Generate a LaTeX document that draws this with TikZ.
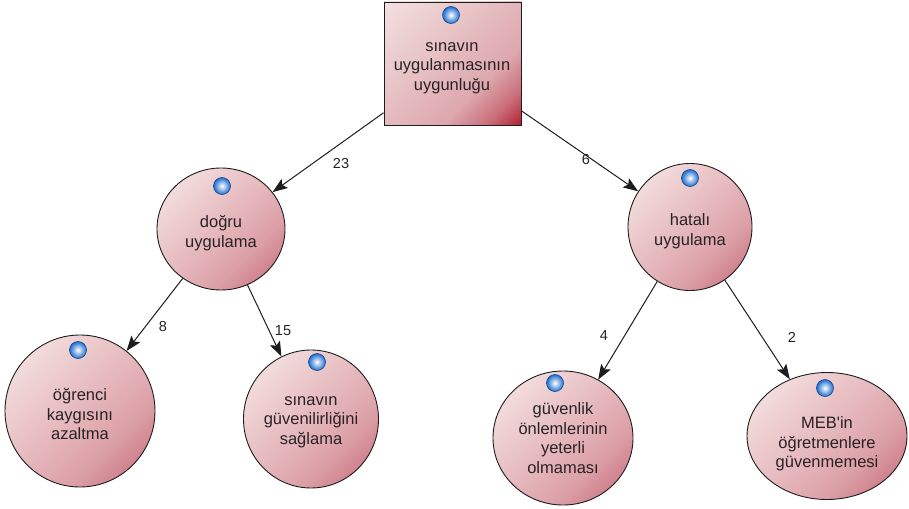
\documentclass[tikz,border=0pt]{standalone}
\usepackage{fontspec}
\setmainfont{Liberation Sans}
\usetikzlibrary{shapes.geometric,arrows.meta}

\definecolor{edgegray}{RGB}{30,28,28}
\definecolor{txt}{RGB}{40,34,36}
\definecolor{ballblue}{RGB}{30,110,205}
\definecolor{ballring}{RGB}{20,70,150}

% diagonal fills: dark at the lower right, light at the upper left
\pgfdeclareverticalshading{bubblefill}{100bp}{%
  color(0bp)=(rgb,255:red,196;green,100;blue,114);
  color(22bp)=(rgb,255:red,204;green,122;blue,134);
  color(35bp)=(rgb,255:red,220;green,160;blue,167);
  color(50bp)=(rgb,255:red,229;green,183;blue,188);
  color(75bp)=(rgb,255:red,243;green,220;blue,220);
  color(100bp)=(rgb,255:red,246;green,230;blue,230)}
\pgfdeclareverticalshading{boxfill}{100bp}{%
  color(0bp)=(rgb,255:red,172;green,24;blue,38);
  color(15bp)=(rgb,255:red,178;green,36;blue,50);
  color(24bp)=(rgb,255:red,202;green,110;blue,122);
  color(36bp)=(rgb,255:red,221;green,168;blue,174);
  color(60bp)=(rgb,255:red,232;green,196;blue,199);
  color(85bp)=(rgb,255:red,243;green,224;blue,224);
  color(100bp)=(rgb,255:red,245;green,228;blue,228)}

\tikzset{
  x=1pt, y=-1pt,
  bubble/.style={ellipse, draw=edgegray, line width=0.9pt, inner sep=0pt,
    shading=bubblefill, shading angle=45},
  rootbox/.style={rectangle, draw=edgegray, line width=0.9pt, inner sep=0pt,
    minimum width=137, minimum height=123,
    shading=boxfill, shading angle=45},
  caption/.style={align=center, text=txt, inner sep=0pt,
    font=\fontsize{16.5}{19.5}\selectfont},
  link/.style={draw=edgegray, line width=1pt,
    -{Stealth[length=15pt,width=11pt,inset=3pt]}},
  count/.style={text=txt, inner sep=1pt, font=\fontsize{14.5}{16}\selectfont},
}

% small blue marker drawn at the top of every node
\newcommand{\marker}[1]{%
  \shade[inner color=white, outer color=ballblue] #1 circle (8.5);
  \draw[ballring, line width=0.6pt] #1 circle (8.5);}

\begin{document}
\begin{tikzpicture}
\useasboundingbox (0,0) rectangle (909,508);

% nodes
\node[rootbox] (root) at (452.5,63.5) {};
\node[bubble, minimum width=128, minimum height=122] (dogru) at (221,229) {};
\node[bubble, minimum width=124, minimum height=127] (hatali) at (690,227) {};
\node[bubble, minimum width=150, minimum height=152] (ogrenci) at (80,411) {};
\node[bubble, minimum width=135, minimum height=138] (guvenilir) at (311,419) {};
\node[bubble, minimum width=140, minimum height=134] (guvenlik) at (563,438) {};
\node[bubble, minimum width=160, minimum height=127] (meb) at (827,436) {};

% captions
\node[caption] (root-t) at (452,68) {sınavın\\uygulanmasının\\uygunluğu};
\node[caption] (dogru-t) at (221,233) {doğru\\uygulama};
\node[caption] (hatali-t) at (690,231) {hatalı\\uygulama};
\node[caption] (ogrenci-t) at (80,414) {öğrenci\\kaygısını\\azaltma};
\node[caption] (guvenilir-t) at (311,422) {sınavın\\güvenilirliğini\\sağlama};
\node[caption] (guvenlik-t) at (563,438) {güvenlik\\önlemlerinin\\yeterli\\olmaması};
\node[caption] (meb-t) at (827,444) {MEB\textquotesingle in\\öğretmenlere\\güvenmemesi};

% markers
\marker{(451,15)}
\marker{(222,186)}
\marker{(690,178)}
\marker{(78,350)}
\marker{(317,362)}
\marker{(555,383)}
\marker{(825,388)}

% connectors
\draw[link] (root) -- (dogru);
\draw[link] (root) -- (hatali);
\draw[link] (dogru) -- (ogrenci);
\draw[link] (dogru) -- (guvenilir);
\draw[link] (hatali) -- (guvenlik);
\draw[link] (hatali) -- (meb);

% counts
\node[count] (c23) at (341,164) {23};
\node[count] (c6) at (586,160) {6};
\node[count] (c8) at (163,327) {8};
\node[count] (c15) at (283,331) {15};
\node[count] (c4) at (604,336) {4};
\node[count] (c2) at (792,337) {2};
\end{tikzpicture}
\end{document}
